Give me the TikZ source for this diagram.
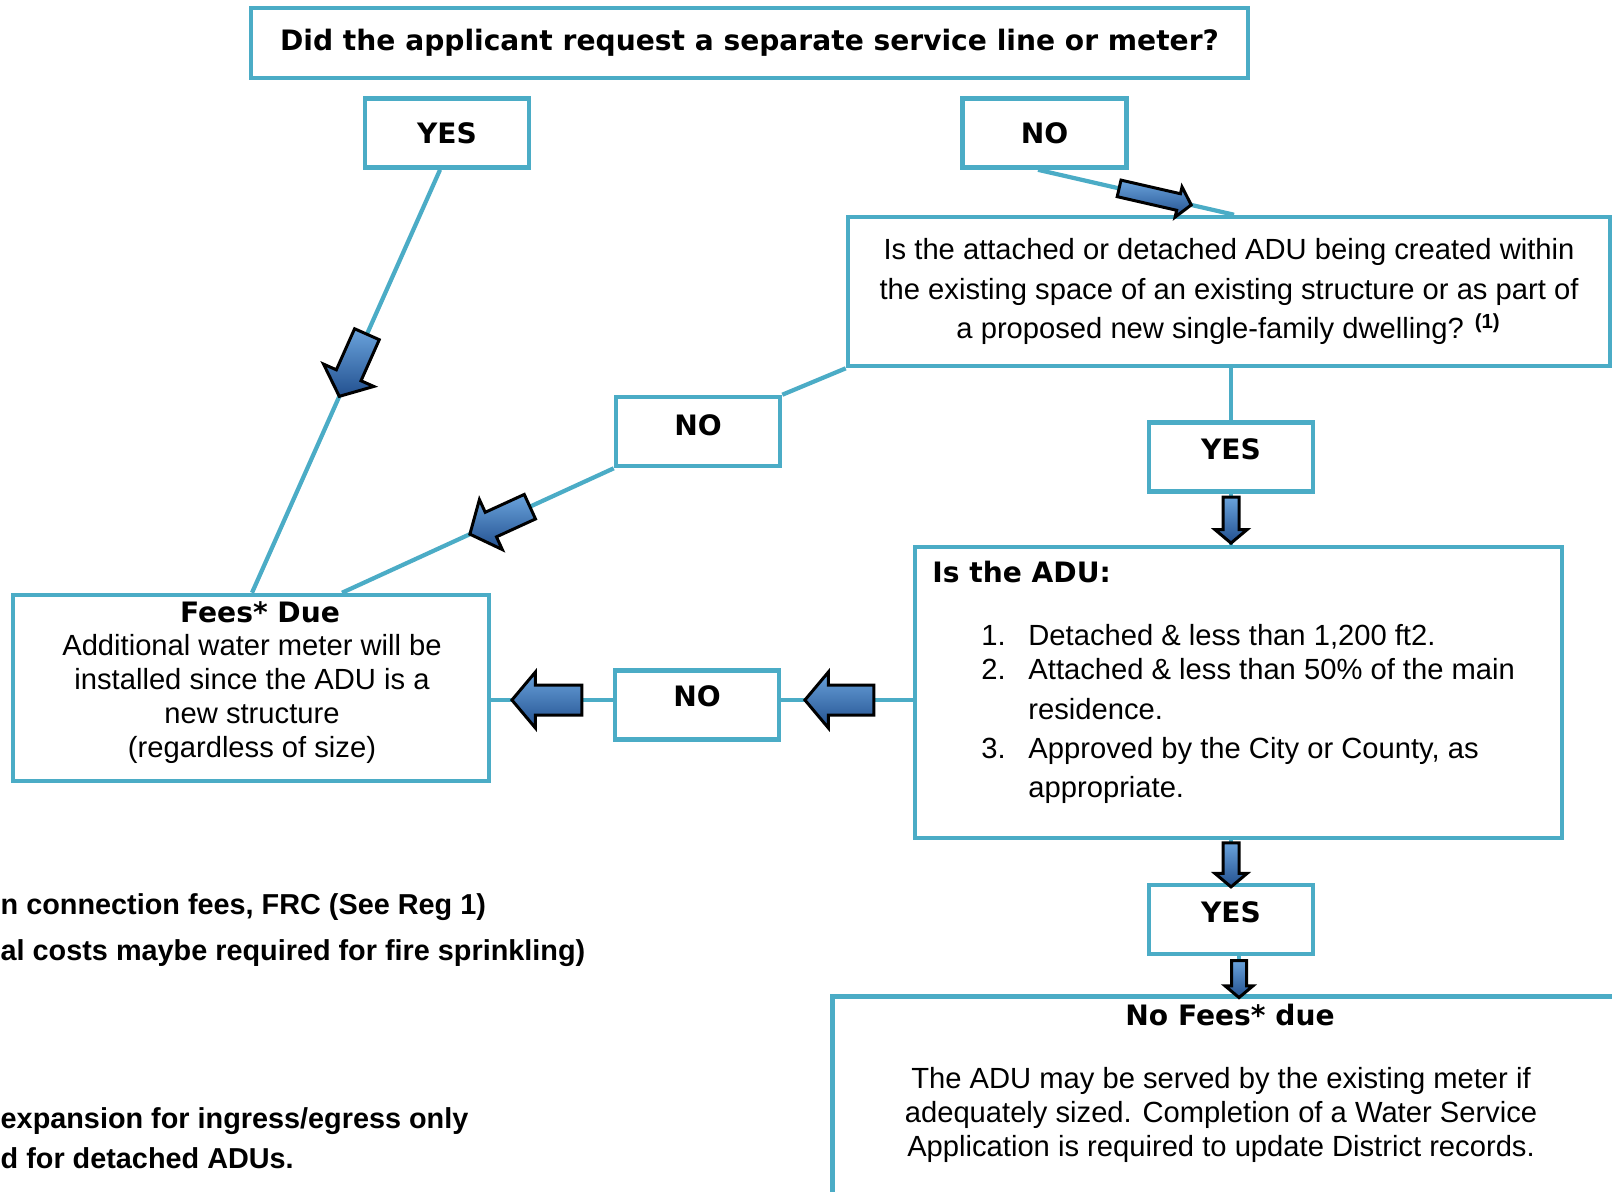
\documentclass[tikz,border=0pt]{standalone}
\usepackage{fontspec}
\setmainfont{Liberation Sans}
\newfontfamily\headsans{DejaVu Sans}
\usetikzlibrary{arrows.meta,positioning,shapes.arrows}

\definecolor{boxteal}{HTML}{4BACC6}
\definecolor{arrowlight}{HTML}{6AA3DC}
\definecolor{arrowdark}{HTML}{22508F}
\newcommand\headtext{\headsans\bfseries\fontsize{8}{9.6}\selectfont}
\newcommand\bodytext{\fontsize{8.3}{11.2}\selectfont}

\begin{document}
\begin{tikzpicture}[
    box/.style={draw=boxteal, line width=1.3pt, fill=white, align=center, inner sep=2pt},
    answer/.style={box, minimum width=1.64cm, minimum height=0.69cm, font=\headtext},
    raised/.style={text depth=#1},
    link/.style={draw=boxteal, line width=1.2pt},
    barrow/.style n args={3}{single arrow, draw=black, line width=0.85pt, top color=arrowlight, bottom color=arrowdark,
        minimum height=#1, minimum width=0pt, inner xsep=0pt, inner ysep=#2, single arrow head extend=#3,
        single arrow tip angle=100, sloped, allow upside down},
    note/.style={anchor=west, inner sep=0pt, font=\fontsize{8.2}{9.8}\selectfont\bfseries}]
    \fill[white] (0,0) rectangle (16.12,-11.91);
    \path[use as bounding box, clip] (0,0) rectangle (16.12,-11.91);
    % Question boxes and answers
    \node[box, minimum width=9.97cm, minimum height=0.70cm, font=\headtext] (request) at (7.495,-0.43) {Did the applicant request a separate service line or meter?};
    \node[answer] (yesA) at (4.47,-1.33) {YES};
    \node[answer] (noA) at (10.445,-1.33) {NO};
    \node[box, minimum width=7.62cm, minimum height=1.49cm, font=\bodytext] (within) at (12.29,-2.915)
        {Is the attached or detached ADU being created within\\the existing space of an existing structure or as part of\\a proposed new single-family dwelling? \textsuperscript{\bfseries (1)}};
    \node[answer, raised=3.4pt] (noB) at (6.98,-4.315) {NO};
    \node[answer, raised=4.5pt] (yesB) at (12.31,-4.57) {YES};
    \node[box, minimum width=6.47cm, minimum height=2.91cm] (adu) at (12.385,-6.925) {};
    \node[box, minimum width=4.76cm, minimum height=1.86cm] (fees) at (2.51,-6.88) {};
    \node[answer, raised=5pt] (noC) at (6.97,-7.05) {NO};
    \node[answer, raised=4.5pt] (yesC) at (12.31,-9.195) {YES};
    \node[box, minimum width=8.1cm, minimum height=2.3cm, anchor=north west] (nofees) at (8.30,-9.94) {};
    % Texts inside the boxes
    \node[anchor=north west, inner sep=0pt, font=\headtext] (aduhead) at ([xshift=0.19cm,yshift=-0.16cm]adu.north west) {Is the ADU:};
    \node[anchor=north west, inner sep=0pt, align=left, font=\bodytext] (adulist) at ([xshift=0.68cm,yshift=-0.79cm]adu.north west)
        {\makebox[0.47cm][l]{1.}Detached \& less than 1,200 ft2.\\[-1.5pt]
         \makebox[0.47cm][l]{2.}Attached \& less than 50\% of the main\\
         \hspace*{0.47cm}residence.\\
         \makebox[0.47cm][l]{3.}Approved by the City or County, as\\
         \hspace*{0.47cm}appropriate.};
    \node[inner sep=0pt, font=\headtext] (feeshead) at (2.60,-6.12) {Fees* Due};
    \node[inner sep=0pt, align=center, font=\fontsize{8.3}{9.6}\selectfont] (feestext) at (2.52,-6.99)
        {Additional water meter will be\\installed since the ADU is a\\new structure\\(regardless of size)};
    \node[inner sep=0pt, font=\headtext] (nofeeshead) at (12.30,-10.15) {No Fees* due};
    \node[inner sep=0pt, align=center, font=\fontsize{8.3}{9.6}\selectfont] (nofeestext) at (12.21,-11.15)
        {The ADU may be served by the existing meter if\\adequately sized. Completion of a Water Service\\Application is required to update District records.};
    % Notes cut at the left edge
    \node[note] (feesnote) at (0,-9.07) {n connection fees, FRC (See Reg 1)};
    \node[note] (firenote) at (0,-9.53) {al costs maybe required for fire sprinkling)};
    \node[note] (egressnote) at (0,-11.21) {expansion for ingress/egress only};
    \node[note] (detachednote) at (0,-11.58) {d for detached ADUs.};
    % Connectors with block arrows
    \draw[link] ([xshift=-0.07cm]yesA.south) -- node[barrow={0.68cm}{0.12cm}{0.14cm}, pos=0.45] {} ([xshift=0.01cm]fees.north);
    \draw[link] ([xshift=-0.065cm]noA.south) -- node[barrow={0.74cm}{0.07cm}{0.07cm}, pos=0.58] {} ([xshift=0.05cm]within.north);
    \draw[link] (within.south west) -- (noB.north east);
    \draw[link] (noB.south west) -- node[barrow={0.66cm}{0.12cm}{0.14cm}, pos=0.40] {} ([xshift=0.91cm]fees.north);
    \draw[link] (yesB.north |- within.south) -- (yesB.north);
    \draw[link] (yesB.south) -- node[barrow={0.46cm}{0.065cm}{0.08cm}, pos=0.45] {} (yesB.south |- adu.north);
    \draw[link] ([yshift=0.05cm]noC.east -| adu.west) -- node[barrow={0.69cm}{0.135cm}{0.13cm}, pos=0.51] {} ([yshift=0.05cm]noC.east);
    \draw[link] ([yshift=0.05cm]noC.west) -- node[barrow={0.70cm}{0.135cm}{0.13cm}, pos=0.49] {} ([yshift=0.05cm]noC.west -| fees.east);
    \draw[link] (yesC.north |- adu.south) -- node[barrow={0.44cm}{0.065cm}{0.08cm}, pos=0.5] {} (yesC.north);
    \draw[link] ([xshift=0.08cm]yesC.south) -- node[barrow={0.37cm}{0.06cm}{0.065cm}, pos=0.52] {} ([xshift=0.08cm]yesC.south |- nofees.north);
\end{tikzpicture}
\end{document}
